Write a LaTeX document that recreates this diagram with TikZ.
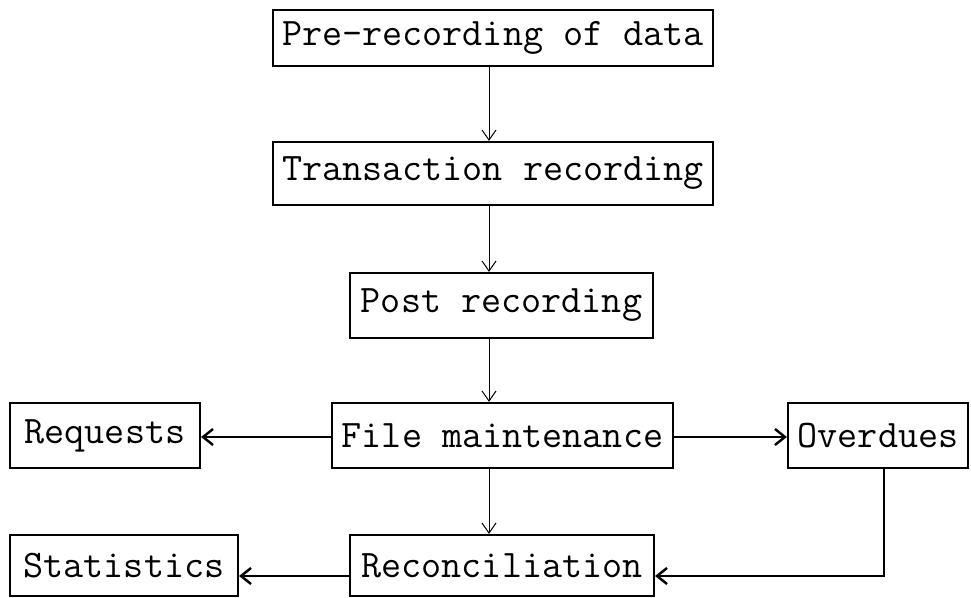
\documentclass[tikz,border=0pt]{standalone}
\usepackage{tikz}
\usetikzlibrary{positioning,arrows.meta}
\tikzset{
    stagebox/.style={draw, line width=1.1pt, inner sep=0pt, font=\fontsize{19.5}{23}\selectfont\ttfamily},
    flowthin/.style={-{Straight Barb[length=5pt,width=7pt]}, line width=0.5pt},
    flowthick/.style={-{Straight Barb[length=5pt,width=8pt]}, line width=1.2pt}
}

\begin{document}
\begin{tikzpicture}[x=0.5pt,y=-0.5pt]
    \useasboundingbox (0,0) rectangle (971,598);
    %Recording chain
    \node[stagebox, minimum width=220pt, minimum height=28pt] (pre) at (493,38) {Pre-recording of data};
    \node[stagebox, minimum width=220pt, minimum height=31.5pt] (trans) at (493,173.5) {Transaction recording};
    \node[stagebox, minimum width=151.5pt, minimum height=32.5pt] (post) at (501.5,305.5) {Post recording};
    %Maintenance row
    \node[stagebox, minimum width=170.5pt, minimum height=32.5pt] (fm) at (502.5,435.5) {File maintenance};
    \node[stagebox, minimum width=95pt, minimum height=32.5pt] (req) at (105,435.5) {Requests};
    \node[stagebox, minimum width=90pt, minimum height=32.5pt] (over) at (878,435.5) {Overdues};
    %Reconciliation row
    \node[stagebox, minimum width=152pt, minimum height=30.5pt] (recon) at (502,565.5) {Reconciliation};
    \node[stagebox, minimum width=114pt, minimum height=30.5pt] (stats) at (124,565.5) {Statistics};
    %Guide lines
    \coordinate (spine) at (489,0);
    \coordinate (midrow) at (0,437);
    \coordinate (lowrow) at (0,576);
    \coordinate (drop) at (884,0);
    %Vertical flow
    \draw[flowthin] (pre.south -| spine) -- (trans.north -| spine);
    \draw[flowthin] (trans.south -| spine) -- (post.north -| spine);
    \draw[flowthin] (post.south -| spine) -- (fm.north -| spine);
    \draw[flowthin] (fm.south -| spine) -- (recon.north -| spine);
    %Side outputs
    \draw[flowthick] (fm.west |- midrow) -- (req.east |- midrow);
    \draw[flowthick] (fm.east |- midrow) -- (over.west |- midrow);
    \draw[flowthick] (recon.west |- lowrow) -- (stats.east |- lowrow);
    %Overdues return
    \draw[flowthick] (over.south -| drop) |- (recon.east |- lowrow);
\end{tikzpicture}
\end{document}
